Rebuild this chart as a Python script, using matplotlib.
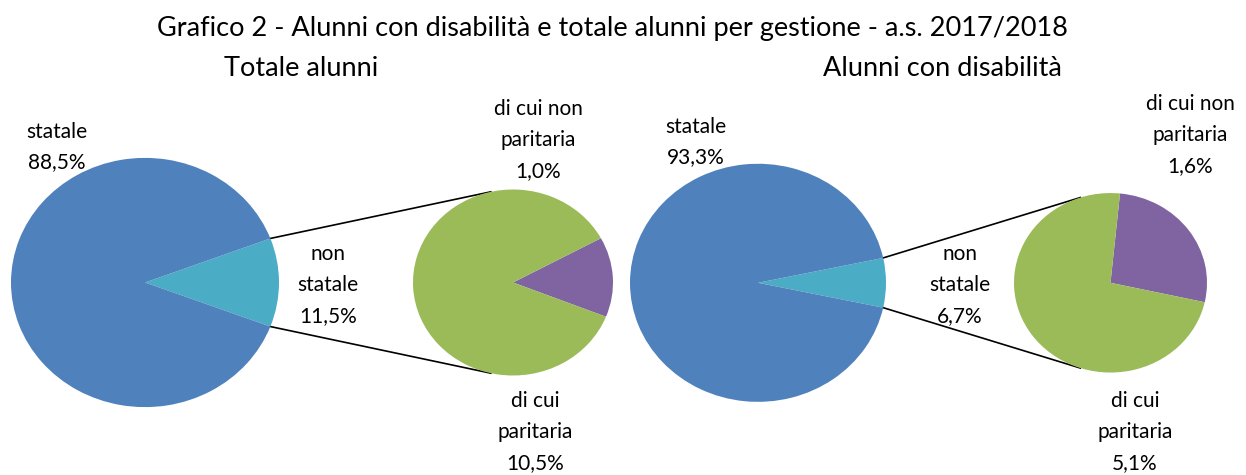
import numpy as np
import matplotlib.pyplot as plt

plt.rcParams['font.family'] = ['Lato', 'DejaVu Sans']

title = "Grafico 2 - Alunni con disabilità e totale alunni per gestione - a.s. 2017/2018"
panel_titles = ["Totale alunni", "Alunni con disabilità"]

# primary pie: statale / non statale (%)
statale = [88.5, 93.3]
non_statale = [11.5, 6.7]
# breakdown of non statale (%), as labelled
paritaria = [10.5, 5.1]
non_paritaria = [1.0, 1.6]
# share of the purple slice in the secondary pie, as drawn (%)
non_paritaria_drawn = [13.9, 26.9]

blue, teal, green, purple = '#4F81BD', '#4BACC6', '#9BBB59', '#8064A2'

W, H = 1246, 475
SQ = 0.93  # pies are slightly flattened vertically


def Y(py):
    # pixel row -> data y
    return (H - py) / SQ


def pct(v):
    return f"{v:.1f}".replace('.', ',') + '%'


# layout in pixels
panels = [
    dict(bx=145, br=134, sx=513, sr=100, cy=282.5, rot=-21.6,
         title_x=301, lab_stat=(57, 147), lab_non=(328, 285),
         lab_np=(538, 140), lab_p=(535, 432)),
    dict(bx=758, br=128, sx=1110.5, sr=96.5, cy=282.8, rot=-12.5,
         title_x=942, lab_stat=(696, 142), lab_non=(960, 285),
         lab_np=(1190, 135), lab_p=(1135, 432)),
]

fig = plt.figure(figsize=(W / 100, H / 100), dpi=100)
ax = fig.add_axes([0, 0, 1, 1])

fs = 15
for i, p in enumerate(panels):
    cy = Y(p['cy'])
    half = 360 * non_statale[i] / 100 / 2
    ax.pie([non_statale[i], statale[i]], colors=[teal, blue], startangle=-half,
           center=(p['bx'], cy), radius=p['br'], wedgeprops=dict(linewidth=0))
    ax.pie([non_paritaria_drawn[i], 100 - non_paritaria_drawn[i]], colors=[purple, green],
           startangle=p['rot'], center=(p['sx'], cy), radius=p['sr'],
           wedgeprops=dict(linewidth=0))

    # connector lines: from the edges of the non statale slice, tangent to the small pie
    for sgn in (1, -1):
        a = np.radians(sgn * half)
        P = np.array([p['bx'] + p['br'] * np.cos(a), cy + p['br'] * np.sin(a)])
        C = np.array([p['sx'], cy])
        d = P - C
        phi = np.arctan2(d[1], d[0])
        beta = np.arccos(p['sr'] / np.hypot(*d))
        t = phi - beta if sgn > 0 else phi + beta
        T = C + p['sr'] * np.array([np.cos(t), np.sin(t)])
        ax.plot([P[0], T[0]], [P[1], T[1]], color='black', lw=1.2, zorder=0)

    ax.text(p['title_x'], Y(68), panel_titles[i], ha='center', va='center', fontsize=19.5)
    kw = dict(ha='center', va='center', fontsize=fs, linespacing=1.68)
    x, y = p['lab_stat']
    ax.text(x, Y(y), "statale\n" + pct(statale[i]), **kw)
    x, y = p['lab_non']
    ax.text(x, Y(y), "non\nstatale\n" + pct(non_statale[i]), **kw)
    x, y = p['lab_np']
    ax.text(x, Y(y), "di cui non\nparitaria\n" + pct(non_paritaria[i]), **kw)
    x, y = p['lab_p']
    ax.text(x, Y(y), "di cui\nparitaria\n" + pct(paritaria[i]), **kw)

ax.text(612, Y(28), title, ha='center', va='center', fontsize=19.5)

ax.set_aspect('auto')
ax.set_xlim(0, W)
ax.set_ylim(0, H / SQ)
ax.axis('off')

fig.savefig('out.png', dpi=100, facecolor='white')
